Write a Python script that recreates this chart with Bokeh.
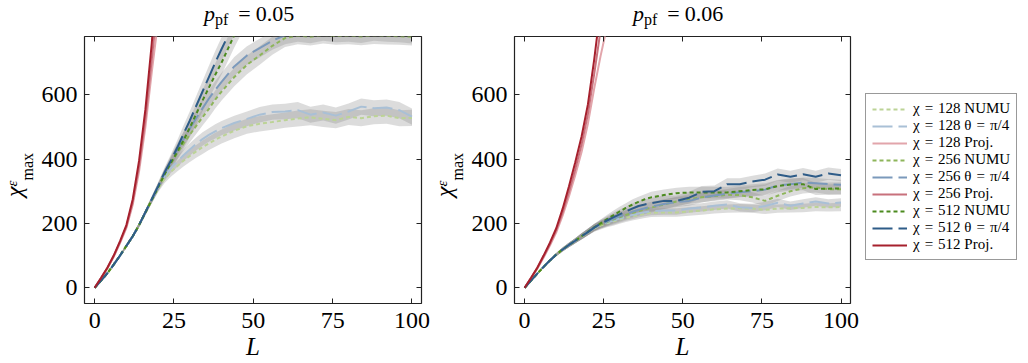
from bokeh.embed import file_html
from bokeh.layouts import column, row
from bokeh.models import Div, FixedTicker, Legend, LegendItem, LinearAxis, Range1d
from bokeh.plotting import figure
from bokeh.resources import INLINE

FONT = "Liberation Serif"

# system sizes L for the NUMU / theta=pi/4 runs
L = [0, 2, 4, 6, 8, 10, 12, 14, 16, 18, 20, 22, 24, 26, 28, 30, 32, 34, 36, 38, 40,
     44, 48, 52, 56, 60, 64, 68, 72, 76, 80, 84, 88, 92, 96, 100]
# system sizes for the projective runs
L_proj = [0, 2, 4, 6, 8, 10, 12, 14, 16, 18, 20, 22, 24, 26]

# ---- p_pf = 0.05 ----
numu128_05 = [0, 22, 45, 72, 100, 130, 160, 194, 233, 271, 308, 338, 360, 378, 395, 410, 424, 437, 449, 460, 470,
              488, 502, 510, 515, 521, 526, 530, 525, 521, 531, 527, 533, 535, 527, 528]
theta128_05 = [0, 22, 45, 72, 100, 130, 160, 195, 235, 274, 312, 345, 372, 392, 412, 430, 447, 462, 475, 486, 496,
               512, 525, 538, 546, 548, 552, 538, 545, 535, 548, 563, 558, 560, 552, 532]
proj128_05 = [0, 29, 60, 96, 139, 186, 258, 362, 500, 670, 830, 1000, 1200, 1400]
numu256_05 = [0, 22, 45, 72, 100, 130, 160, 195, 234, 273, 313, 352, 386, 418, 448, 476, 503, 530, 556, 585, 610,
              655, 693, 722, 752, 776, 784, 780, 786, 782, 784, 781, 785, 783, 782, 780]
theta256_05 = [0, 22, 45, 72, 100, 130, 160, 195, 235, 275, 315, 356, 392, 428, 462, 495, 527, 558, 588, 615, 640,
               688, 722, 745, 768, 785, 792, 787, 795, 790, 792, 788, 795, 792, 790, 786]
proj256_05 = [0, 30, 61, 98, 142, 190, 266, 378, 525, 710, 900, 1150, 1450, 1700]
numu512_05 = [0, 22, 45, 72, 100, 130, 160, 195, 234, 273, 312, 352, 388, 422, 458, 498, 540, 582, 622, 662, 700,
              785, 860, 920, 970, 1010, 1040, 1060, 1075, 1085, 1090, 1095, 1100, 1100, 1105, 1105]
theta512_05 = [0, 22, 45, 72, 100, 130, 160, 195, 235, 275, 316, 358, 395, 435, 478, 520, 565, 610, 655, 700, 742,
               825, 900, 960, 1010, 1050, 1080, 1100, 1120, 1130, 1140, 1150, 1150, 1160, 1160, 1165]
proj512_05 = [0, 30, 62, 100, 145, 195, 275, 395, 555, 760, 1030, 1350, 1700, 2000]

err128_05 = [0, 1, 2, 3, 4, 5, 6, 7, 8, 9, 11, 13, 15, 17, 18, 19, 20, 21, 21, 22, 22,
             23, 23, 24, 24, 24, 25, 25, 25, 25, 25, 25, 25, 25, 25, 25]
err256_05 = [0, 1, 2, 3, 4, 5, 6, 7, 8, 9, 11, 14, 17, 20, 22, 24, 25, 26, 27, 28, 28,
             29, 29, 29, 28, 28, 27, 27, 27, 27, 27, 27, 27, 27, 27, 27]
err512_05 = [0, 1, 2, 3, 4, 5, 6, 7, 8, 10, 12, 15, 19, 23, 26, 29, 31, 33, 35, 36, 37,
             38, 38, 38, 38, 38, 38, 38, 38, 38, 38, 38, 38, 38, 38, 38]

# ---- p_pf = 0.06 ----
numu128_06 = [0, 22, 44, 65, 85, 103, 119, 133, 146, 159, 172, 185, 193, 200, 206, 212, 217, 222, 226, 230, 233,
              234, 234, 237, 240, 244, 246, 247, 246, 242, 246, 247, 248, 251, 250, 251]
theta128_06 = [0, 22, 44, 65, 85, 103, 119, 133, 146, 160, 173, 186, 195, 202, 209, 215, 221, 226, 231, 235, 238,
               240, 240, 246, 250, 255, 259, 250, 248, 254, 264, 255, 262, 268, 262, 265]
proj128_06 = [0, 29, 59, 94, 131, 172, 224, 284, 350, 422, 510, 620, 720, 810]
numu256_06 = [0, 22, 44, 65, 85, 103, 119, 133, 146, 160, 173, 187, 196, 204, 212, 219, 226, 232, 238, 244, 249,
              259, 268, 276, 281, 285, 289, 288, 281, 270, 286, 300, 309, 312, 306, 306]
theta256_06 = [0, 22, 44, 65, 85, 103, 119, 133, 146, 160, 173, 187, 197, 206, 214, 222, 229, 236, 242, 247, 252,
               260, 266, 270, 280, 287, 292, 297, 300, 305, 318, 322, 327, 325, 322, 320]
proj256_06 = [0, 30, 61, 97, 136, 179, 234, 298, 368, 445, 540, 665, 800, 960]
numu512_06 = [0, 22, 44, 65, 85, 103, 119, 133, 146, 160, 174, 188, 200, 213, 225, 237, 248, 258, 267, 275, 281,
              288, 294, 296, 296, 296, 296, 300, 304, 306, 316, 321, 322, 307, 308, 309]
theta512_06 = [0, 22, 44, 65, 85, 103, 119, 133, 146, 160, 173, 187, 199, 209, 219, 228, 237, 246, 254, 259, 263,
               270, 270, 280, 298, 300, 322, 322, 330, 336, 352, 345, 353, 345, 355, 350]
proj512_06 = [0, 30, 62, 100, 140, 185, 245, 315, 390, 470, 570, 710, 870, 1050]

err128_06 = [0, 1, 2, 3, 4, 5, 6, 7, 8, 9, 10, 11, 12, 12, 13, 13, 13, 13, 13, 13, 13,
             13, 13, 13, 13, 13, 13, 13, 13, 13, 13, 13, 13, 13, 13, 13]
err256_06 = [0, 1, 2, 3, 4, 5, 6, 7, 8, 9, 10, 11, 12, 13, 13, 14, 14, 14, 14, 15, 15,
             15, 15, 15, 15, 15, 15, 16, 16, 16, 16, 16, 16, 16, 16, 16]
err512_06 = [0, 1, 2, 3, 4, 5, 6, 7, 8, 9, 10, 11, 12, 13, 14, 15, 15, 16, 16, 16, 17,
             17, 17, 18, 18, 18, 18, 18, 18, 19, 19, 19, 19, 19, 19, 19]

chis = ["128", "256", "512"]
x_ticks = [0, 25, 50, 75, 100]
y_ticks = [0, 200, 400, 600]

COLORS = {
    "NUMU": ["#bcd396", "#8db55a", "#4b8a1e"],
    "theta": ["#a9c0d6", "#7b99bb", "#2e5c88"],
    "Proj": ["#e2a5ab", "#c8717c", "#a6202d"],
}
DASH = {"NUMU": "4 3", "theta": "20 6", "Proj": "solid"}

XR = (-3.2, 103.0)
YR = (-49.0, 781.0)
BLOCK_W, BLOCK_H = 430, 363
TITLE_H = 30          # height of the title strip above each panel
YLAB_W = 38           # width of the strip holding the rotated y label
FRAME_W = 337
FRAME_TOP, FRAME_BOTTOM_BORDER = 36, 60
EQ = "\u2004=\u2004"  # slightly wider spacing around "=" in the legend labels


def style_axis(ax, show_labels):
    ax.major_tick_in = 5
    ax.major_tick_out = 0
    ax.minor_tick_in = 0
    ax.minor_tick_out = 0
    ax.axis_line_color = None
    ax.major_tick_line_color = "#222222"
    ax.major_label_text_font = FONT
    if show_labels:
        ax.major_label_text_font_size = "24px"
        ax.major_label_text_color = "#000000"
    else:
        ax.major_label_text_font_size = "1px"
        ax.major_label_text_color = None
        ax.major_label_standoff = 0


def title_div(p_label, frame_left):
    # p_pf = value, the "p" starts 120 px right of the frame's left edge
    html = (
        f'<div style="margin:0;padding:3px 0 0 {frame_left + 120}px;white-space:nowrap;'
        f"font-family:'{FONT}';font-size:22px;line-height:22px;color:#000;\">"
        '<i>p</i><span style="font-size:16px;position:relative;top:4px;">pf</span>'
        '<span style="margin-left:10px;">=</span>'
        f'<span style="margin-left:5px;">{p_label}</span></div>'
    )
    return Div(text=html, width=BLOCK_W, height=TITLE_H, margin=0)


def ylabel_div():
    # rotated chi^eps_max, reading bottom to top
    html = (
        '<div style="position:relative;left:2px;top:167px;width:80px;height:24px;line-height:24px;'
        "transform:rotate(-90deg);transform-origin:0 0;white-space:nowrap;text-align:left;"
        f"font-family:'{FONT}';font-size:24px;color:#000;\">"
        '<i>χ</i><i style="font-size:15px;position:relative;top:-5.5px;">ε</i>'
        '<span style="font-size:16px;position:relative;top:10.5px;">max</span></div>'
    )
    return Div(text=html, width=YLAB_W, height=BLOCK_H - TITLE_H, margin=0)


def panel(p_label, numu, theta, proj, errs, frame_left):
    border_left = frame_left - YLAB_W
    border_right = BLOCK_W - frame_left - FRAME_W
    p = figure(width=BLOCK_W - YLAB_W, height=BLOCK_H - TITLE_H,
               x_range=Range1d(*XR), y_range=Range1d(*YR),
               output_backend="svg", toolbar_location=None, title=None,
               min_border_left=border_left, min_border_right=border_right,
               min_border_top=FRAME_TOP - TITLE_H, min_border_bottom=FRAME_BOTTOM_BORDER)
    p.xgrid.visible = False
    p.ygrid.visible = False
    p.outline_line_color = "#222222"
    p.outline_line_width = 1.2
    p.background_fill_color = "white"
    p.border_fill_color = "white"

    p.xaxis.ticker = FixedTicker(ticks=x_ticks)
    p.yaxis.ticker = FixedTicker(ticks=y_ticks)
    style_axis(p.xaxis[0], True)
    style_axis(p.yaxis[0], True)
    p.xaxis.major_label_standoff = 9
    p.yaxis.major_label_standoff = 7
    p.xaxis.axis_label = "L"
    p.xaxis.axis_label_text_font = FONT
    p.xaxis.axis_label_text_font_style = "italic"
    p.xaxis.axis_label_text_font_size = "25px"
    p.xaxis.axis_label_text_color = "#000000"
    p.xaxis.axis_label_standoff = 2

    # mirrored inward ticks on the top and right edges
    top = LinearAxis(ticker=FixedTicker(ticks=x_ticks))
    right = LinearAxis(ticker=FixedTicker(ticks=y_ticks))
    style_axis(top, False)
    style_axis(right, False)
    p.add_layout(top, "above")
    p.add_layout(right, "right")

    # shaded spread around every NUMU / theta curve
    for i in range(3):
        for ys in (numu[i], theta[i]):
            lo = [v - e for v, e in zip(ys, errs[i])]
            hi = [v + e for v, e in zip(ys, errs[i])]
            p.varea(x=L, y1=lo, y2=hi, fill_color="#8c8c8c", fill_alpha=0.3)

    for i in range(3):
        p.line(L, numu[i], line_color=COLORS["NUMU"][i], line_width=2, line_dash=DASH["NUMU"])
        p.line(L, theta[i], line_color=COLORS["theta"][i], line_width=2, line_dash=DASH["theta"])
        p.line(L_proj, proj[i], line_color=COLORS["Proj"][i], line_width=2)

    return column(title_div(p_label, frame_left), row(ylabel_div(), p, spacing=0), spacing=0)


block1 = panel("0.05", [numu128_05, numu256_05, numu512_05], [theta128_05, theta256_05, theta512_05],
               [proj128_05, proj256_05, proj512_05], [err128_05, err256_05, err512_05], 84)
block2 = panel("0.06", [numu128_06, numu256_06, numu512_06], [theta128_06, theta256_06, theta512_06],
               [proj128_06, proj256_06, proj512_06], [err128_06, err256_06, err512_06], 83)

# legend panel: the line samples sit outside the visible range, only the legend shows
p3 = figure(width=168, height=BLOCK_H, x_range=Range1d(0, 1), y_range=Range1d(0, 1),
            output_backend="svg", toolbar_location=None, title=None,
            x_axis_type=None, y_axis_type=None,
            min_border_left=0, min_border_right=0,
            min_border_top=FRAME_TOP, min_border_bottom=FRAME_BOTTOM_BORDER)
p3.grid.visible = False
p3.outline_line_color = None

items = []
for i, chi in enumerate(chis):
    for kind, name in (("NUMU", "NUMU"), ("theta", f"θ{EQ}π/4"), ("Proj", "Proj.")):
        r = p3.line(x=[5, 6], y=[5, 5], line_color=COLORS[kind][i], line_width=2, line_dash=DASH[kind])
        items.append(LegendItem(label=f"χ{EQ}{chi} {name}", renderers=[r]))

legend = Legend(items=items, location=(5, 43), margin=0, padding=6, spacing=0,
                glyph_width=35, glyph_height=16, label_height=16, label_standoff=6,
                label_text_font=FONT, label_text_font_size="15px", label_text_color="#000000",
                border_line_color="#333333", border_line_width=1, background_fill_color="white",
                background_fill_alpha=1.0)
p3.add_layout(legend, "center")

layout = row(block1, block2, p3, spacing=0)
open("out.html", "w").write(file_html(layout, INLINE))
